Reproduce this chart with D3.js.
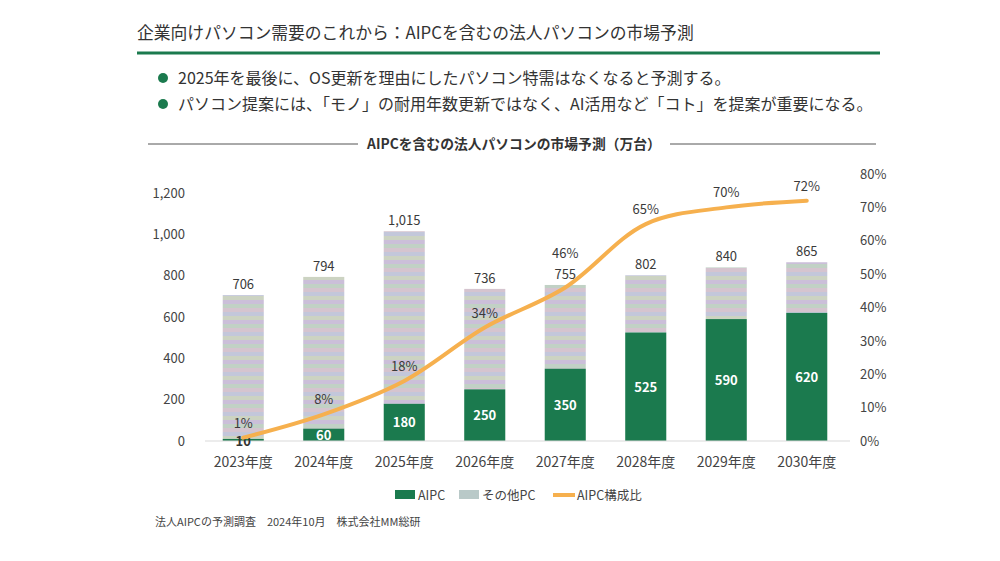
<!DOCTYPE html>
<html>
<head>
  <meta charset="UTF-8">
  <title>AIPC市場予測</title>
  <script src="https://d3js.org/d3.v7.min.js"></script>
  <style>
    body {
      margin: 0;
      padding: 0;
      background: #fff;
      font-family: "Noto Sans CJK JP", "Noto Sans", sans-serif;
    }
    svg {
      display: block;
    }
  </style>
</head>
<body>

<script>
  const years = ["2023年度", "2024年度", "2025年度", "2026年度", "2027年度", "2028年度", "2029年度", "2030年度"];
  const aipc = [10, 60, 180, 250, 350, 525, 590, 620];
  const totals = [706, 794, 1015, 736, 755, 802, 840, 865];
  const ratio = [1, 8, 18, 34, 46, 65, 70, 72];
  const leftTicks = [0, 200, 400, 600, 800, 1000, 1200];
  const rightTicks = [0, 10, 20, 30, 40, 50, 60, 70, 80];

  const width = 1000;
  const height = 561;
  const green = "#1b7a4e";
  const orange = "#f6b04e";
  const textColor = "#3a3a3a";

  const svg = d3.select("body")
    .append("svg")
    .attr("width", width)
    .attr("height", height);

  // striped pastel fill for "その他PC"
  const defs = svg.append("defs");
  const pat = defs.append("pattern")
    .attr("id", "other")
    .attr("patternUnits", "userSpaceOnUse")
    .attr("width", 40)
    .attr("height", 20);
  const bands = ["#cbbfd9", "#c1d1c5", "#d5c4cf", "#c3c7da", "#ccd3c2"];
  bands.forEach((c, i) => {
    pat.append("rect").attr("x", 0).attr("y", i * 4).attr("width", 40).attr("height", 4).attr("fill", c);
  });

  // header
  svg.append("text")
    .attr("x", 137).attr("y", 39)
    .attr("font-size", 16.8)
    .attr("fill", "#333")
    .text("企業向けパソコン需要のこれから：AIPCを含むの法人パソコンの市場予測");

  svg.append("line")
    .attr("x1", 137).attr("x2", 880)
    .attr("y1", 53).attr("y2", 53)
    .attr("stroke", green).attr("stroke-width", 3);

  const bullets = [
    "2025年を最後に、OS更新を理由にしたパソコン特需はなくなると予測する。",
    "パソコン提案には、「モノ」の耐用年数更新ではなく、AI活用など「コト」を提案が重要になる。"
  ];
  bullets.forEach((t, i) => {
    const y = 78 + i * 26;
    svg.append("circle").attr("cx", 163).attr("cy", y).attr("r", 5).attr("fill", green);
    svg.append("text")
      .attr("x", 178).attr("y", y + 6)
      .attr("font-size", 16)
      .attr("fill", "#333")
      .text(t);
  });

  // chart title with rules
  svg.append("line").attr("x1", 148).attr("x2", 358).attr("y1", 144).attr("y2", 144)
    .attr("stroke", "#555").attr("stroke-width", 1);
  svg.append("line").attr("x1", 670).attr("x2", 876).attr("y1", 144).attr("y2", 144)
    .attr("stroke", "#555").attr("stroke-width", 1);
  svg.append("text")
    .attr("x", 514).attr("y", 149)
    .attr("text-anchor", "middle")
    .attr("font-size", 13.8)
    .attr("font-weight", "bold")
    .attr("fill", "#333")
    .text("AIPCを含むの法人パソコンの市場予測（万台）");

  // scales
  const x = d3.scaleBand()
    .domain(years)
    .range([203, 847])
    .paddingInner(0.49)
    .paddingOuter(0.245);

  const y = d3.scaleLinear()
    .domain([0, 1292])
    .range([441, 174]);

  const yr = d3.scaleLinear()
    .domain([0, 80])
    .range([441, 174]);

  // axes
  const leftAxis = svg.append("g")
    .attr("transform", "translate(205,0)")
    .call(d3.axisLeft(y).tickValues(leftTicks).tickFormat(d3.format(",")).tickSize(0).tickPadding(20));
  leftAxis.select(".domain").remove();

  const rightAxis = svg.append("g")
    .attr("transform", "translate(852,0)")
    .call(d3.axisRight(yr).tickValues(rightTicks).tickFormat(d => d + "%").tickSize(0).tickPadding(8));
  rightAxis.select(".domain").remove();

  const bottomAxis = svg.append("g")
    .attr("transform", "translate(0,441)")
    .call(d3.axisBottom(x).tickSize(0).tickPadding(16));
  bottomAxis.select(".domain").remove();

  svg.selectAll(".tick text")
    .attr("font-family", "\"Noto Sans CJK JP\", sans-serif")
    .attr("font-size", 13)
    .attr("fill", "#444");
  bottomAxis.selectAll(".tick text").attr("font-size", 14);

  // bars
  const data = years.map((yrName, i) => ({ year: yrName, aipc: aipc[i], total: totals[i], ratio: ratio[i] }));

  svg.selectAll(".other")
    .data(data)
    .enter().append("rect")
    .attr("class", "other")
    .attr("x", d => x(d.year))
    .attr("width", x.bandwidth())
    .attr("y", d => y(d.total))
    .attr("height", d => y(d.aipc) - y(d.total))
    .attr("fill", "url(#other)");

  svg.selectAll(".aipc")
    .data(data)
    .enter().append("rect")
    .attr("class", "aipc")
    .attr("x", d => x(d.year))
    .attr("width", x.bandwidth())
    .attr("y", d => y(d.aipc))
    .attr("height", d => y(0) - y(d.aipc))
    .attr("fill", green);

  // baseline
  svg.append("line")
    .attr("x1", 205).attr("x2", 850)
    .attr("y1", y(0)).attr("y2", y(0))
    .attr("stroke", "#d9d9d9").attr("stroke-width", 1);

  // total labels
  const totalY = d => y(d.total) - 6;
  svg.selectAll(".total")
    .data(data)
    .enter().append("text")
    .attr("x", d => x(d.year) + x.bandwidth() / 2)
    .attr("y", totalY)
    .attr("text-anchor", "middle")
    .attr("font-size", 13)
    .attr("fill", textColor)
    .text(d => d3.format(",")(d.total));

  // aipc labels
  svg.selectAll(".aipcLabel")
    .data(data)
    .enter().append("text")
    .attr("x", d => x(d.year) + x.bandwidth() / 2)
    .attr("y", d => d.aipc < 30 ? y(0) + 5 : (y(0) + y(d.aipc)) / 2 + 5)
    .attr("text-anchor", "middle")
    .attr("font-size", 13)
    .attr("font-weight", "bold")
    .attr("fill", d => d.aipc < 30 ? "#333" : "#fff")
    .text(d => d.aipc);

  // ratio line
  const line = d3.line()
    .x(d => x(d.year) + x.bandwidth() / 2)
    .y(d => yr(d.ratio))
    .curve(d3.curveCatmullRom.alpha(0.5));

  svg.append("path")
    .datum(data)
    .attr("d", line)
    .attr("fill", "none")
    .attr("stroke", orange)
    .attr("stroke-width", 4)
    .attr("stroke-linecap", "round");

  // ratio labels (lifted above the total label when they would collide)
  const ratioY = d => {
    const base = yr(d.ratio) - 10;
    return Math.abs(base - totalY(d)) < 16 ? totalY(d) - 21 : base;
  };
  svg.selectAll(".ratioLabel")
    .data(data)
    .enter().append("text")
    .attr("x", d => x(d.year) + x.bandwidth() / 2)
    .attr("y", ratioY)
    .attr("text-anchor", "middle")
    .attr("font-size", 13)
    .attr("fill", textColor)
    .text(d => d.ratio + "%");

  // legend
  const legend = svg.append("g").attr("transform", "translate(0,495)");
  legend.append("rect").attr("x", 395).attr("y", -5).attr("width", 20).attr("height", 9).attr("fill", green);
  legend.append("text").attr("x", 418).attr("y", 5).attr("font-size", 12.5).attr("fill", "#444").text("AIPC");
  legend.append("rect").attr("x", 459).attr("y", -5).attr("width", 20).attr("height", 9).attr("fill", "#b9c9c8");
  legend.append("text").attr("x", 482).attr("y", 5).attr("font-size", 12.5).attr("fill", "#444").text("その他PC");
  legend.append("line").attr("x1", 553).attr("x2", 575).attr("y1", 0).attr("y2", 0)
    .attr("stroke", orange).attr("stroke-width", 4);
  legend.append("text").attr("x", 577).attr("y", 5).attr("font-size", 12.5).attr("fill", "#444").text("AIPC構成比");

  // source
  svg.append("text")
    .attr("x", 155).attr("y", 526)
    .attr("font-size", 11)
    .attr("fill", "#444")
    .text("法人AIPCの予測調査　2024年10月　株式会社MM総研");
</script>

</body>
</html>
